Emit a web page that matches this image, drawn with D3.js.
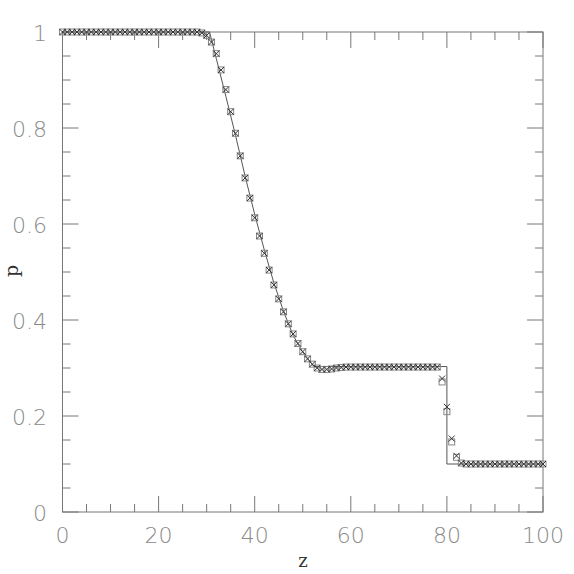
<!DOCTYPE html>
<html>
<head>
<meta charset="utf-8">
<script src="https://cdn.jsdelivr.net/npm/d3@7"></script>
<style>
  html, body { margin: 0; padding: 0; background: #fff; }
  svg { display: block; }
</style>
</head>
<body>
<div id="chart"></div>
<script>
// marker positions (z) and the two simulated pressure series
const zGrid = [0,1,2,3,4,5,6,7,8,9,10,11,12,13,14,15,16,17,18,19,20,21,22,23,24,25,26,27,28,29,
  30,31,32,33,34,35,36,37,38,39,40,41,42,43,44,45,46,47,48,49,50,51,52,53,54,55,56,57,58,59,
  60,61,62,63,64,65,66,67,68,69,70,71,72,73,74,75,76,77,78,79,80,81,82,83,84,85,86,87,88,89,
  90,91,92,93,94,95,96,97,98,99,100];

const pSquare = [1,1,1,1,1,1,1,1,1,1,1,1,1,1,1,1,1,1,1,1,1,1,1,1,1,1,1,1,1,0.998,
  0.993,0.979,0.955,0.921,0.880,0.834,0.789,0.742,0.696,0.654,0.613,0.575,0.539,0.504,0.473,0.444,0.417,0.392,0.371,0.351,
  0.334,0.319,0.308,0.300,0.297,0.297,0.298,0.300,0.301,0.302,
  0.302,0.302,0.302,0.302,0.302,0.302,0.302,0.302,0.302,0.302,0.302,0.302,0.302,0.302,0.302,0.302,0.302,0.302,0.302,
  0.271,0.209,0.146,0.114,0.102,0.1,0.1,0.1,0.1,0.1,0.1,0.1,0.1,0.1,0.1,0.1,0.1,0.1,0.1,0.1,0.1,0.1];

const pCross = [1,1,1,1,1,1,1,1,1,1,1,1,1,1,1,1,1,1,1,1,1,1,1,1,1,1,1,1,1,0.998,
  0.993,0.979,0.955,0.921,0.880,0.834,0.789,0.742,0.696,0.654,0.613,0.575,0.539,0.504,0.473,0.444,0.417,0.392,0.371,0.351,
  0.334,0.319,0.308,0.300,0.297,0.297,0.298,0.300,0.301,0.302,
  0.302,0.302,0.302,0.302,0.302,0.302,0.302,0.302,0.302,0.302,0.302,0.302,0.302,0.302,0.302,0.302,0.302,0.302,0.302,
  0.278,0.219,0.153,0.117,0.102,0.1,0.1,0.1,0.1,0.1,0.1,0.1,0.1,0.1,0.1,0.1,0.1,0.1,0.1,0.1,0.1,0.1];

// exact solution
const lineZ = [0, 30.6, 32, 34, 36, 38, 40, 42, 44, 46, 48, 50, 52.3, 80, 80, 100];
const lineP = [1, 1, 0.945, 0.866, 0.785, 0.700, 0.620, 0.546, 0.477, 0.418, 0.368, 0.333, 0.303, 0.303, 0.1, 0.1];

const xTicks = [0, 20, 40, 60, 80, 100];
const yTicks = [0, 0.2, 0.4, 0.6, 0.8, 1];

const W = 574, H = 574;
const plotL = 62.5, plotR = 543, plotT = 32, plotB = 512;

const svg = d3.select('#chart').append('svg').attr('width', W).attr('height', H);

const x = d3.scaleLinear().domain([0, 100]).range([plotL, plotR]);
const y = d3.scaleLinear().domain([0, 1]).range([plotB, plotT]);

const axisColor = '#777';
const labelFont = "'DejaVu Sans', sans-serif";

/// frame
svg.append('rect')
  .attr('x', plotL).attr('y', plotT)
  .attr('width', plotR - plotL).attr('height', plotB - plotT)
  .attr('fill', 'none').attr('stroke', axisColor).attr('stroke-width', 1);

/// ticks on all four sides, pointing inward
const xMinor = x.ticks(20);
const yMinor = y.ticks(20);
const majorLen = 16, minorLen = 8;

function isMajor(v, list) { return list.some(t => Math.abs(t - v) < 1e-9); }

const tickG = svg.append('g').attr('stroke', axisColor).attr('stroke-width', 1);

xMinor.forEach(function(v) {
  let len = isMajor(v, xTicks) ? majorLen : minorLen;
  tickG.append('line').attr('x1', x(v)).attr('x2', x(v)).attr('y1', plotB).attr('y2', plotB - len);
  tickG.append('line').attr('x1', x(v)).attr('x2', x(v)).attr('y1', plotT).attr('y2', plotT + len);
});

yMinor.forEach(function(v) {
  let len = isMajor(v, yTicks) ? majorLen : minorLen;
  tickG.append('line').attr('x1', plotL).attr('x2', plotL + len).attr('y1', y(v)).attr('y2', y(v));
  tickG.append('line').attr('x1', plotR).attr('x2', plotR - len).attr('y1', y(v)).attr('y2', y(v));
});

/// tick labels
svg.append('g').selectAll('text')
  .data(xTicks)
  .enter().append('text')
  .attr('x', function(d) { return x(d); })
  .attr('y', 543)
  .attr('text-anchor', 'middle')
  .attr('font-family', labelFont)
  .attr('font-weight', 200)
  .attr('font-size', 22)
  .attr('fill', '#8a8a8a')
  .text(function(d) { return d; });

svg.append('g').selectAll('text')
  .data(yTicks)
  .enter().append('text')
  .attr('x', 47)
  .attr('y', function(d) { return y(d) + 8.5; })
  .attr('text-anchor', 'end')
  .attr('font-family', labelFont)
  .attr('font-weight', 200)
  .attr('font-size', 22)
  .attr('fill', '#8a8a8a')
  .text(function(d) { return d; });

/// axis titles
svg.append('text')
  .attr('x', 303).attr('y', 567)
  .attr('text-anchor', 'middle')
  .attr('font-family', "'DejaVu Serif', serif")
  .attr('font-size', 18)
  .attr('fill', '#333')
  .text('z');

svg.append('text')
  .attr('transform', 'translate(18,271) rotate(-90)')
  .attr('text-anchor', 'middle')
  .attr('font-family', "'DejaVu Serif', serif")
  .attr('font-size', 19)
  .attr('fill', '#333')
  .text('p');

/// exact solution line
const lineData = lineZ.map(function(z, i) { return [z, lineP[i]]; });
svg.append('path')
  .datum(lineData)
  .attr('fill', 'none')
  .attr('stroke', '#555')
  .attr('stroke-width', 1)
  .attr('d', d3.line().x(function(d) { return x(d[0]); }).y(function(d) { return y(d[1]); }));

/// square markers
const s = 3;
svg.append('g').selectAll('rect')
  .data(zGrid.map(function(z, i) { return [z, pSquare[i]]; }))
  .enter().append('rect')
  .attr('x', function(d) { return x(d[0]) - s; })
  .attr('y', function(d) { return y(d[1]) - s; })
  .attr('width', 2 * s).attr('height', 2 * s)
  .attr('fill', 'none')
  .attr('stroke', '#888')
  .attr('stroke-width', 1);

/// cross markers
svg.append('g').selectAll('path')
  .data(zGrid.map(function(z, i) { return [z, pCross[i]]; }))
  .enter().append('path')
  .attr('d', function(d) {
    let cx = x(d[0]), cy = y(d[1]);
    return 'M' + (cx - s) + ',' + (cy - s) + 'L' + (cx + s) + ',' + (cy + s) +
           'M' + (cx - s) + ',' + (cy + s) + 'L' + (cx + s) + ',' + (cy - s);
  })
  .attr('fill', 'none')
  .attr('stroke', '#333')
  .attr('stroke-width', 1);
</script>
</body>
</html>
